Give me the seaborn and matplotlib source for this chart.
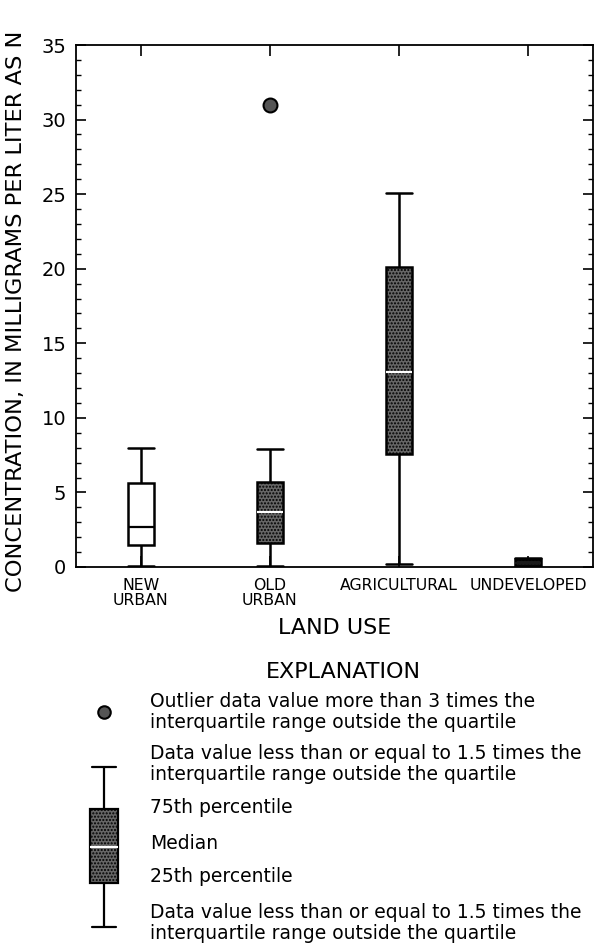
import numpy as np
import pandas as pd
import matplotlib
matplotlib.use('Agg')
import matplotlib.pyplot as plt
from matplotlib.ticker import MultipleLocator
import seaborn as sns

# land use categories and their tick labels
land_use = ['NEW URBAN', 'OLD URBAN', 'AGRICULTURAL', 'UNDEVELOPED']
tick_labels = ['NEW\nURBAN', 'OLD\nURBAN', 'AGRICULTURAL', 'UNDEVELOPED']

# values, mg/L as N: low whisker, Q1, median, Q3, high whisker
new_urban = [0.1, 1.5, 2.7, 5.6, 8.0]
old_urban = [0.1, 1.6, 3.7, 5.7, 7.9]
agricultural = [0.2, 7.6, 13.1, 20.1, 25.1]
undeveloped = [0.02, 0.05, 0.3, 0.55, 0.6]
outlier_group = ['OLD URBAN']
outlier_value = [31.0]
box_colors = ['white', '#666666', '#666666', '#1a1a1a']
median_colors = ['black', 'white', 'white', '#1a1a1a']

# explanation key (arbitrary units inside the key box)
key_values = [13, 57, 93, 131, 173]
key_outlier = [228]
key_text = [
    'Outlier data value more than 3 times the\ninterquartile range outside the quartile',
    'Data value less than or equal to 1.5 times the\ninterquartile range outside the quartile',
    '75th percentile',
    'Median',
    '25th percentile',
    'Data value less than or equal to 1.5 times the\ninterquartile range outside the quartile',
]
key_text_y = [712, 764, 807, 843, 877, 923]

sns.set_style('ticks')
plt.rcParams['font.family'] = ['DejaVu Sans']
for k in ['text.color', 'axes.labelcolor', 'xtick.color', 'ytick.color', 'axes.edgecolor']:
    plt.rcParams[k] = 'black'

df = pd.DataFrame({
    'land_use': np.repeat(land_use, 5),
    'conc': new_urban + old_urban + agricultural + undeveloped,
})

W, H = 595, 946
fig = plt.figure(figsize=(W / 100, H / 100), dpi=100)
ax = fig.add_axes([76 / W, 1 - 567 / H, 517 / W, 522 / H])

sns.boxplot(data=df, x='land_use', y='conc', hue='land_use', order=land_use,
            palette=dict(zip(land_use, box_colors)), width=0.2, whis=1.5,
            linecolor='black', linewidth=1.8, showfliers=False, legend=False,
            capwidths=0.2, ax=ax)
for c, col, mcol in zip(ax.containers, box_colors, median_colors):
    for b in c.boxes:
        if col != 'white':
            b.set_hatch('.....')
    for m in c.medians:
        m.set_color(mcol)
        m.set_linewidth(1.6)

sns.stripplot(x=outlier_group, y=outlier_value, order=land_use, jitter=False,
              color='#555555', edgecolor='black', linewidth=1.5, size=10, ax=ax)

ax.set_xlim(-0.5, 3.5)
ax.set_ylim(0, 35)
ax.yaxis.set_major_locator(MultipleLocator(5))
ax.yaxis.set_minor_locator(MultipleLocator(1))
ax.set_xticks(range(4))
ax.set_xticklabels(tick_labels, fontsize=11.3, family=['Liberation Sans Narrow', 'DejaVu Sans Condensed'],
                   linespacing=1.0)
ax.tick_params(axis='y', which='major', direction='in', length=7, width=1.2,
               left=True, right=True, labelsize=14, pad=7)
ax.tick_params(axis='y', which='minor', direction='in', length=3.5, width=1,
               left=True, right=True)
ax.tick_params(axis='x', which='major', direction='in', length=8, width=1.2,
               top=True, bottom=True, pad=8)
for s in ax.spines.values():
    s.set_visible(True)
    s.set_linewidth(1.3)

ax.set_ylabel('CONCENTRATION, IN MILLIGRAMS PER LITER AS N', fontsize=16.2)
ax.yaxis.set_label_coords(-0.097, 0.489)
ax.set_xlabel('LAND USE', fontsize=16)
ax.xaxis.set_label_coords(0.5, -0.098)

fig.text(343 / W, 1 - 672 / H, 'EXPLANATION', ha='center', va='center', fontsize=16)

# explanation key glyph
lax = fig.add_axes([84 / W, 1 - 940 / H, 40 / W, 250 / H])
sns.boxplot(y=key_values, color='#666666', width=0.68, whis=1.5, linecolor='black',
            linewidth=1.6, showfliers=False, capwidths=0.6, ax=lax)
for c in lax.containers:
    for b in c.boxes:
        b.set_hatch('.....')
    for m in c.medians:
        m.set_color('white')
sns.stripplot(y=key_outlier, jitter=False, color='#555555', edgecolor='black',
              linewidth=1.5, size=9, ax=lax)
lax.set_xlim(-0.5, 0.5)
lax.set_ylim(0, 250)
lax.axis('off')

for t, y in zip(key_text, key_text_y):
    fig.text(150 / W, 1 - y / H, t, ha='left', va='center', fontsize=13.5, linespacing=1.12)

fig.savefig('out.png', dpi=100)
